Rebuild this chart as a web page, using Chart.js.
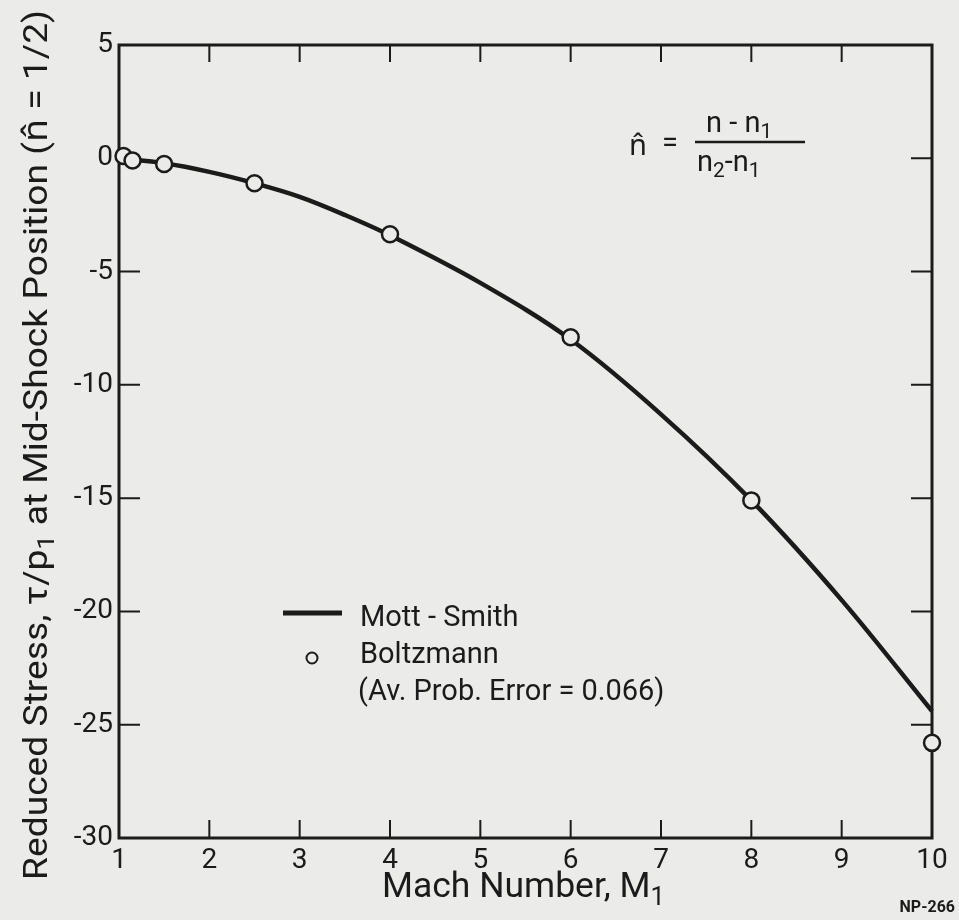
<!DOCTYPE html>
<html>
<head>
<meta charset="utf-8">
<script src="https://cdn.jsdelivr.net/npm/chart.js@4.4.1/dist/chart.umd.min.js"></script>
<style>
html, body { margin: 0; padding: 0; background: #ebebe9; }
</style>
</head>
<body>
<canvas id="stressChart" width="959" height="920"></canvas>
<script>
// Данные
const machCurve = [1, 1.5, 2, 2.5, 3, 3.5, 4, 5, 6, 7, 8, 9, 10];
const stressCurve = [0, -0.22, -0.6, -1.1, -1.7, -2.5, -3.4, -5.5, -8.0, -11.3, -15.1, -19.5, -24.4];
const machPoints = [1.05, 1.15, 1.5, 2.5, 4, 6, 8, 10];
const stressPoints = [0.1, -0.1, -0.25, -1.1, -3.35, -7.9, -15.1, -25.8];
const xTicks = [1, 2, 3, 4, 5, 6, 7, 8, 9, 10];
const yTicks = [5, 0, -5, -10, -15, -20, -25, -30];

const INK = '#1b1b1b';
const PAPER = '#ebebe9';
const FONT = 'Roboto, "Noto Sans", sans-serif';

// текст с нижними индексами
function runsWidth(ctx, runs, size) {
    let w = 0;
    runs.forEach(r => {
        ctx.font = (r.sub ? size * 0.72 : size) + 'px ' + FONT;
        w += ctx.measureText(r.t).width;
    });
    return w;
}
function drawRuns(ctx, runs, x, y, size) {
    ctx.textAlign = 'left';
    ctx.textBaseline = 'alphabetic';
    runs.forEach(r => {
        ctx.font = (r.sub ? size * 0.72 : size) + 'px ' + FONT;
        ctx.fillText(r.t, x, r.sub ? y + size * 0.22 : y);
        x += ctx.measureText(r.t).width;
    });
}

const paperPlugin = {
    id: 'paper',
    beforeDraw(chart) {
        const ctx = chart.ctx;
        ctx.save();
        ctx.fillStyle = PAPER;
        ctx.fillRect(0, 0, chart.width, chart.height);
        ctx.restore();
    }
};

// рамка и внутренние засечки
const framePlugin = {
    id: 'frame',
    beforeDatasetsDraw(chart) {
        const ctx = chart.ctx;
        const a = chart.chartArea;
        const xs = chart.scales.x, ys = chart.scales.y;
        ctx.save();
        ctx.strokeStyle = INK;
        ctx.lineWidth = 2;
        ctx.beginPath();
        xTicks.slice(1, -1).forEach(v => {
            const px = xs.getPixelForValue(v);
            ctx.moveTo(px, a.bottom); ctx.lineTo(px, a.bottom - 18);
            ctx.moveTo(px, a.top); ctx.lineTo(px, a.top + 17);
        });
        yTicks.slice(1, -1).forEach(v => {
            const py = ys.getPixelForValue(v);
            ctx.moveTo(a.left, py); ctx.lineTo(a.left + 21, py);
            ctx.moveTo(a.right, py); ctx.lineTo(a.right - 21, py);
        });
        ctx.stroke();
        ctx.lineWidth = 3;
        ctx.strokeRect(a.left, a.top, a.right - a.left, a.bottom - a.top);
        ctx.restore();
    }
};

// подписи осей, легенда, формула
const textPlugin = {
    id: 'texts',
    afterDraw(chart) {
        const ctx = chart.ctx;
        ctx.save();
        ctx.fillStyle = INK;
        ctx.strokeStyle = INK;

        // ось Y
        const yRuns = [
            { t: 'Reduced Stress, \u03C4/p' }, { t: '1', sub: true },
            { t: ' at Mid-Shock Position (n\u0302 = 1/2)' }
        ];
        const size = 34;
        const yw = runsWidth(ctx, yRuns, size);
        const k = 870 / yw;
        ctx.save();
        ctx.translate(47, 445);
        ctx.rotate(-Math.PI / 2);
        ctx.scale(k, 1);
        drawRuns(ctx, yRuns, -yw / 2, 0, size);
        ctx.restore();

        // ось X
        const xRuns = [{ t: 'Mach Number, M' }, { t: '1', sub: true }];
        let xs = 32;
        xs = Math.min(36, Math.max(26, xs * 283 / runsWidth(ctx, xRuns, xs)));
        drawRuns(ctx, xRuns, 382, 897, xs);

        // легенда
        const ds = chart.data.datasets;
        ctx.lineWidth = 5;
        ctx.beginPath();
        ctx.moveTo(283, 613); ctx.lineTo(342, 613);
        ctx.stroke();
        drawRuns(ctx, [{ t: ds[0].label }], 360, 626, 29);
        ctx.lineWidth = 2;
        ctx.fillStyle = PAPER;
        ctx.beginPath();
        ctx.arc(312, 658, 5.5, 0, Math.PI * 2);
        ctx.fill();
        ctx.stroke();
        ctx.fillStyle = INK;
        drawRuns(ctx, [{ t: ds[1].label }], 360, 663, 29);
        drawRuns(ctx, [{ t: '(Av. Prob. Error = 0.066)' }], 358, 700, 29);

        // формула
        drawRuns(ctx, [{ t: 'n\u0302' }], 629, 155, 29);
        drawRuns(ctx, [{ t: '=' }], 662, 152, 29);
        ctx.lineWidth = 2.5;
        ctx.beginPath();
        ctx.moveTo(695, 142); ctx.lineTo(805, 142);
        ctx.stroke();
        drawRuns(ctx, [{ t: 'n - n' }, { t: '1', sub: true }], 706, 132, 29);
        drawRuns(ctx, [{ t: 'n' }, { t: '2', sub: true }, { t: '-n' }, { t: '1', sub: true }], 697, 171, 29);

        ctx.font = 'bold 16px ' + FONT;
        ctx.textAlign = 'right';
        ctx.fillText('NP-266', 955, 912);
        ctx.restore();
    }
};

let ctx = document.getElementById('stressChart').getContext('2d');
let stressChart = new Chart(ctx, {
    type: 'scatter',
    data: {
        datasets: [
            {
                label: 'Mott - Smith',
                type: 'line',
                data: machCurve.map((m, i) => ({ x: m, y: stressCurve[i] })),
                borderColor: INK,
                borderWidth: 4.5,
                pointRadius: 0,
                fill: false,
                tension: 0.35,
                clip: false,
                order: 2
            },
            {
                label: 'Boltzmann',
                data: machPoints.map((m, i) => ({ x: m, y: stressPoints[i] })),
                backgroundColor: PAPER,
                borderColor: INK,
                borderWidth: 2.5,
                pointRadius: 8,
                clip: false,
                order: 1
            }
        ]
    },
    options: {
        responsive: false,
        animation: false,
        layout: { padding: { top: 45, right: 27, left: 0, bottom: 0 } },
        plugins: {
            legend: { display: false },
            tooltip: { enabled: false }
        },
        scales: {
            x: {
                type: 'linear',
                min: 1,
                max: 10,
                afterFit(scale) { scale.height = 82; },
                afterBuildTicks(scale) { scale.ticks = xTicks.map(v => ({ value: v })); },
                grid: { display: false, drawTicks: false },
                border: { display: false },
                ticks: {
                    color: INK,
                    padding: 6,
                    maxRotation: 0,
                    font: { family: FONT, size: 28 },
                    callback: v => String(v)
                }
            },
            y: {
                type: 'linear',
                min: -30,
                max: 5,
                afterFit(scale) { scale.width = 119; },
                afterBuildTicks(scale) { scale.ticks = yTicks.map(v => ({ value: v })); },
                grid: { display: false, drawTicks: false },
                border: { display: false },
                ticks: {
                    color: INK,
                    padding: 6,
                    font: { family: FONT, size: 28 },
                    callback: v => String(v)
                }
            }
        }
    },
    plugins: [paperPlugin, framePlugin, textPlugin]
});
</script>
</body>
</html>
